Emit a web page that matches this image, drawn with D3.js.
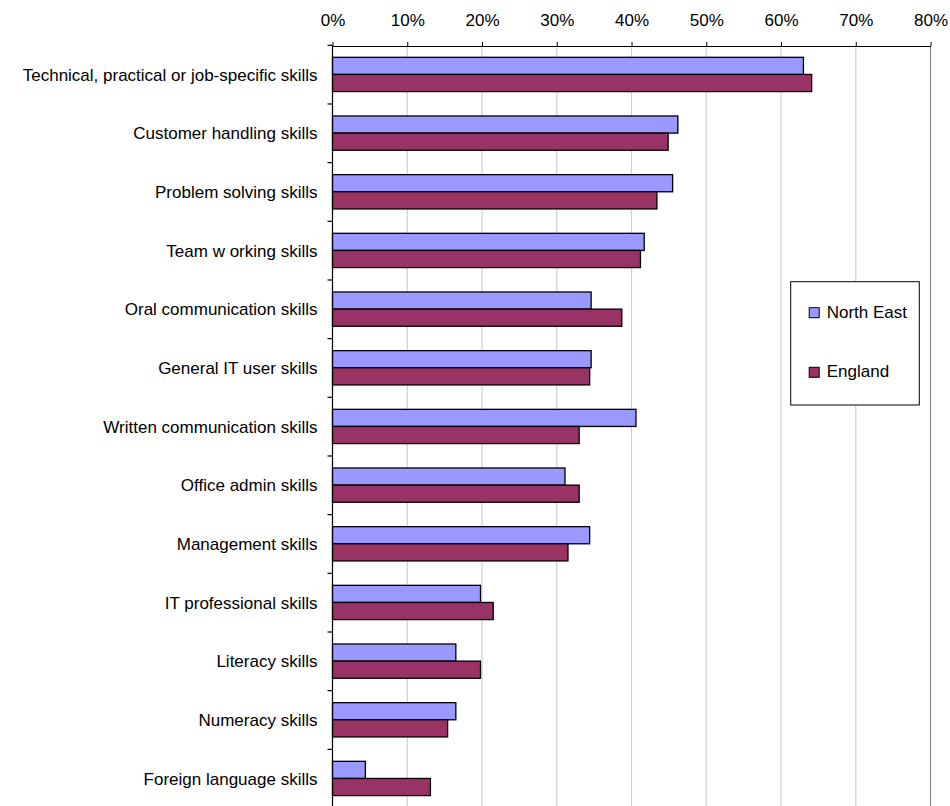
<!DOCTYPE html>
<html>
<head>
<meta charset="utf-8">
<script src="https://cdn.jsdelivr.net/npm/d3@7"></script>
<style>
  body { margin: 0; background: #fff; }
  text { font-family: "Liberation Sans", Arial, sans-serif; font-size: 17px; fill: #000; }
</style>
</head>
<body>
<script>
// skills categories, top to bottom
var categories = [
    "Technical, practical or job-specific skills",
    "Customer handling skills",
    "Problem solving skills",
    "Team w orking skills",
    "Oral communication skills",
    "General IT user skills",
    "Written communication skills",
    "Office admin skills",
    "Management skills",
    "IT professional skills",
    "Literacy skills",
    "Numeracy skills",
    "Foreign language skills"
];
var seriesNames = ["North East", "England"];
var northEast = [0.630, 0.462, 0.455, 0.417, 0.346, 0.346, 0.406, 0.311, 0.344, 0.198, 0.165, 0.165, 0.044];
var england = [0.641, 0.449, 0.434, 0.412, 0.387, 0.344, 0.330, 0.330, 0.315, 0.215, 0.198, 0.154, 0.131];
var tickValues = [0, 0.1, 0.2, 0.3, 0.4, 0.5, 0.6, 0.7, 0.8];
var colors = ["#9999ff", "#993366"];

var width = 950, height = 806;
// note: don't call it "top", window.top is taken
var plotLeft = 332.5, plotRight = 930.5, plotTop = 46, plotBottom = 808;

var svg = d3.select("body").append("svg")
    .attr("width", width)
    .attr("height", height);

var x = d3.scaleLinear().domain([0, 0.8]).range([plotLeft, plotRight]);
var y = d3.scaleBand().domain(categories).range([45.3, plotBottom]);
var ySub = d3.scaleBand().domain(seriesNames).range([12, y.bandwidth() - 12.4]);

// gridlines
svg.append("g")
    .selectAll("line")
    .data(tickValues.slice(1))
    .join("line")
      .attr("x1", d => x(d))
      .attr("x2", d => x(d))
      .attr("y1", plotTop)
      .attr("y2", plotBottom)
      .attr("stroke", d => d === 0.8 ? "#888" : "#cfcfcf")
      .attr("stroke-width", 1.2);

// bars
var rows = categories.map((c, i) => ({cat: c, values: [northEast[i], england[i]]}));
var groups = svg.append("g")
    .selectAll("g")
    .data(rows)
    .join("g")
      .attr("transform", d => `translate(0,${y(d.cat)})`);

groups.selectAll("rect")
    .data(d => d.values.map((v, j) => ({name: seriesNames[j], v, j})))
    .join("rect")
      .attr("x", x(0))
      .attr("y", d => ySub(d.name))
      .attr("width", d => x(d.v) - x(0))
      .attr("height", ySub.bandwidth())
      .attr("fill", d => colors[d.j])
      .attr("stroke", "#000")
      .attr("stroke-width", 1.3);

// top axis
var xAxis = d3.axisTop(x)
    .tickValues(tickValues)
    .tickFormat(d3.format(".0%"))
    .tickSizeInner(4)
    .tickSizeOuter(0)
    .tickPadding(16);
var gx = svg.append("g")
    .attr("transform", `translate(0,${plotTop})`)
    .call(xAxis);
gx.select(".domain").attr("stroke", "#000").attr("stroke-width", 1.2);
gx.selectAll("text").attr("font-size", null).attr("font-family", null);

// left axis with ticks at category boundaries
svg.append("line")
    .attr("x1", plotLeft).attr("x2", plotLeft)
    .attr("y1", plotTop).attr("y2", plotBottom)
    .attr("stroke", "#000")
    .attr("stroke-width", 1.2);
svg.append("g")
    .selectAll("line")
    .data(categories)
    .join("line")
      .attr("x1", plotLeft - 5)
      .attr("x2", plotLeft)
      .attr("y1", d => y(d))
      .attr("y2", d => y(d))
      .attr("stroke", "#000")
      .attr("stroke-width", 1.2);

svg.append("g")
    .selectAll("text")
    .data(categories)
    .join("text")
      .attr("x", plotLeft - 15)
      .attr("y", d => y(d) + y.bandwidth() / 2)
      .attr("dy", "0.35em")
      .attr("text-anchor", "end")
      .text(d => d);

// legend
var legend = svg.append("g").attr("transform", "translate(790.7,281.7)");
legend.append("rect")
    .attr("width", 128.6)
    .attr("height", 123.3)
    .attr("fill", "#fff")
    .attr("stroke", "#000")
    .attr("stroke-width", 1);
var items = legend.selectAll("g")
    .data(seriesNames)
    .join("g")
      .attr("transform", (d, i) => `translate(18.5,${26 + i * 59.6})`);
items.append("rect")
    .attr("width", 10)
    .attr("height", 10)
    .attr("fill", (d, i) => colors[i])
    .attr("stroke", "#000")
    .attr("stroke-width", 1);
items.append("text")
    .attr("x", 17.5)
    .attr("y", 10)
    .text(d => d);
</script>
</body>
</html>
